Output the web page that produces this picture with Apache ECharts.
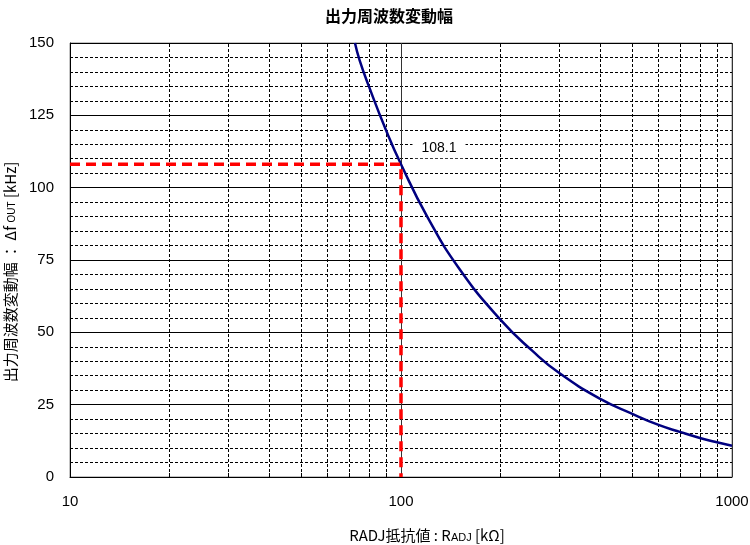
<!DOCTYPE html>
<html><head><meta charset="utf-8">
<script src="https://cdn.jsdelivr.net/npm/echarts@6/dist/echarts.min.js"></script>
<style>html,body{margin:0;padding:0;background:#fff}#c{width:750px;height:545px}</style>
</head><body><div id="c"></div>
<script>
// Data
const resistanceK = [72.6, 75, 80, 90, 100, 120, 150, 200, 250, 300, 400, 500, 600, 700, 800, 900, 1000];
const deltaFkHz   = [150, 144, 135, 120, 108.1, 90, 72, 54.3, 43.5, 36, 27, 21.8, 18, 15.5, 13.5, 12, 10.8];
const markerX = 100;
const markerY = 108.1;
const minorX = [20, 30, 40, 50, 60, 70, 80, 90, 200, 300, 400, 500, 600, 700, 800, 900];
const titleText = '出力周波数変動幅';

const curve = resistanceK.map((x, i) => [x, deltaFkHz[i]]);
const font = '"Liberation Sans", Arial, sans-serif';
const jfont = '"Noto Sans CJK JP", sans-serif';

const chart = echarts.init(document.getElementById('c'), null, {renderer: 'canvas'});
chart.setOption({
  animation: false,
  backgroundColor: '#fff',
  title: {
    text: titleText, left: 384, textAlign: 'center', top: 3,
    textStyle: {fontFamily: jfont, fontSize: 16, fontWeight: 'bold', color: '#000'}
  },
  grid: {left: 70, right: 18, top: 43, bottom: 68, show: true, borderColor: '#888', borderWidth: 1,
         containLabel: false, outerBoundsMode: 'none'},
  xAxis: {
    type: 'log', logBase: 10, min: 10, max: 1000,
    axisLine: {show: true, onZero: false, lineStyle: {color: '#000', width: 1}},
    axisTick: {show: false},
    splitLine: {show: true, lineStyle: {color: '#333', width: 1}},
    axisLabel: {fontFamily: font, fontSize: 15, color: '#000', margin: 17, formatter: v => String(v)},
    name: '{a|RADJ抵抗値 : R}{s|ADJ}{a| [kΩ]}',
    nameLocation: 'middle', nameGap: 50,
    nameTextStyle: {
      padding: [0, 0, 0, 52],
      rich: {
        a: {fontFamily: jfont, fontSize: 15, color: '#000'},
        s: {fontFamily: font, fontSize: 11, color: '#000', padding: [5, 0, 0, 0]}
      }
    }
  },
  yAxis: {
    type: 'value', min: 0, max: 150, interval: 25,
    axisLine: {show: true, lineStyle: {color: '#000', width: 1}},
    axisTick: {show: false},
    splitLine: {show: true, lineStyle: {color: '#000', width: 1}},
    minorTick: {show: false, splitNumber: 5},
    minorSplitLine: {show: true, lineStyle: {color: '#000', width: 1, type: [3, 2]}},
    axisLabel: {fontFamily: font, fontSize: 15, color: '#000', margin: 16},
    name: '{a|出力周波数変動幅 ： Δf }{s|OUT}{a| [kHz]}',
    nameLocation: 'middle', nameGap: 47,
    nameTextStyle: {
      padding: [0, 24, 0, 0],
      rich: {
        a: {fontFamily: jfont, fontSize: 15, color: '#000'},
        s: {fontFamily: font, fontSize: 10, color: '#000', padding: [4, 0, 0, 0]}
      }
    }
  },
  series: [
    {
      type: 'line', data: [], silent: true,
      markLine: {
        silent: true, symbol: 'none', label: {show: false},
        lineStyle: {color: '#000', width: 1, type: [3, 2]},
        data: minorX.map(v => ({xAxis: v}))
      }
    },
    {
      type: 'line', data: [], silent: true,
      markLine: {
        silent: true, symbol: 'none', label: {show: false},
        lineStyle: {color: '#000', width: 1, type: 'solid'},
        data: minorX.map(v => [{coord: [v, 0]}, {coord: [v, 1.4]}])
      }
    },
    {
      type: 'line', data: curve, smooth: true, showSymbol: false, symbol: 'none',
      lineStyle: {color: '#000080', width: 2.5}, z: 5
    },
    {
      type: 'line', data: [[10, markerY], [markerX, markerY], [markerX, 0]],
      showSymbol: false, symbol: 'none',
      lineStyle: {color: '#ff0000', width: 3.5, type: [10, 6]}, z: 6,
      markPoint: {
        silent: true, symbol: 'rect', symbolSize: 0,
        data: [{coord: [markerX, markerY]}],
        label: {
          show: true, formatter: String(markerY), position: 'inside', offset: [38, -16],
          fontFamily: font, fontSize: 14, color: '#000',
          backgroundColor: '#fff', padding: [3, 9]
        }
      }
    }
  ]
});
</script>
</body></html>
